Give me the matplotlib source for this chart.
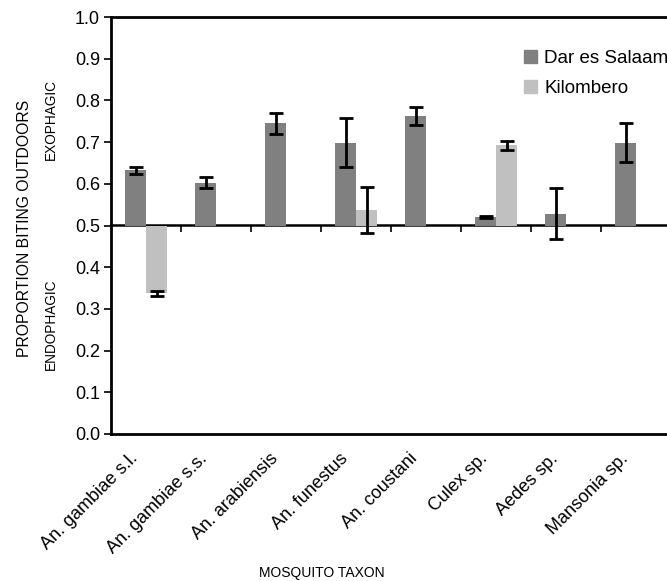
import matplotlib
matplotlib.use("Agg")
import matplotlib.pyplot as plt
import matplotlib.transforms as mtransforms
import numpy as np
from matplotlib.patches import Patch

plt.rcParams['font.family'] = ['Liberation Sans', 'DejaVu Sans']

taxa = ["An. gambiae s.l.", "An. gambiae s.s.", "An. arabiensis", "An. funestus",
        "An. coustani", "Culex sp.", "Aedes sp.", "Mansonia sp."]
dar = [0.632, 0.603, 0.745, 0.699, 0.762, 0.521, 0.528, 0.699]
dar_err = [0.009, 0.013, 0.025, 0.059, 0.022, 0.002, 0.061, 0.047]
kil = [0.337, None, None, 0.538, None, 0.692, None, None]
kil_err = [0.006, None, None, 0.055, None, 0.010, None, None]
yticks = [0.0, 0.1, 0.2, 0.3, 0.4, 0.5, 0.6, 0.7, 0.8, 0.9, 1.0]
baseline = 0.5

fig = plt.figure(figsize=(6.67, 5.81), dpi=100)
ax = fig.add_axes([111/667, 1-434/581, 1.0-111/667, (434-17)/581])

x = np.arange(len(taxa))
w = 0.3
dark = '#808080'
light = '#c0c0c0'

dh = [v - baseline for v in dar]
ax.bar(x - w/2, dh, w, bottom=baseline, color=dark, zorder=2)
ax.errorbar(x - w/2, dar, yerr=dar_err, fmt='none', ecolor='black',
            elinewidth=2, capsize=5, capthick=2, zorder=3)

kx = [xi + w/2 for xi, v in zip(x, kil) if v is not None]
kv = [v for v in kil if v is not None]
ke = [e for e in kil_err if e is not None]
ax.bar(kx, [v - baseline for v in kv], w, bottom=baseline, color=light, zorder=2)
ax.errorbar(kx, kv, yerr=ke, fmt='none', ecolor='black',
            elinewidth=2, capsize=5, capthick=2, zorder=3)

ax.set_xlim(-0.5, 7.44)
ax.set_ylim(0, 1.0)
ax.set_yticks(yticks)
ax.set_yticklabels([f"{t:.1f}" for t in yticks], fontsize=13)
ax.tick_params(axis='y', direction='out', length=5, width=1.2, pad=3)
ax.set_xticks(x)
ax.set_xticklabels(taxa, rotation=45, ha='right', va='center',
                   rotation_mode='anchor', fontsize=13)
ax.tick_params(axis='x', length=0, pad=16)
offset = mtransforms.ScaledTranslation(-11/100, 0, fig.dpi_scale_trans)
for lbl in ax.get_xticklabels():
    lbl.set_transform(lbl.get_transform() + offset)

for s in ['left', 'bottom', 'top']:
    ax.spines[s].set_linewidth(2)
ax.spines['right'].set_visible(False)

# category axis crossing at 0.5
sec = ax.secondary_xaxis(0.5)
sec.set_xticks(x[:-1] + 0.5)
sec.set_xticklabels([])
sec.tick_params(axis='x', direction='in', length=5, width=1.2)
for sp in sec.spines.values():
    sp.set_linewidth(1.8)

handles = [Patch(color=dark, label='Dar es Salaam'), Patch(color=light, label='Kilombero')]
ax.legend(handles=handles, loc='upper left', bbox_to_anchor=(0.742, 0.922),
          frameon=False, fontsize=13.5, handlelength=0.7, handleheight=0.7,
          handletextpad=0.4, labelspacing=0.72, borderaxespad=0, borderpad=0)

fig.text(25/667, 1-228/581, 'PROPORTION BITING OUTDOORS', rotation=90,
         ha='center', va='center', fontsize=11.3)
fig.text(51/667, 1-120/581, 'EXOPHAGIC', rotation=90, ha='center', va='center', fontsize=9.8)
fig.text(51/667, 1-324/581, 'ENDOPHAGIC', rotation=90, ha='center', va='center', fontsize=9.8)
fig.text(322/667, 1-573/581, 'MOSQUITO TAXON', ha='center', va='center', fontsize=10)

fig.savefig('out.png', dpi=100)
